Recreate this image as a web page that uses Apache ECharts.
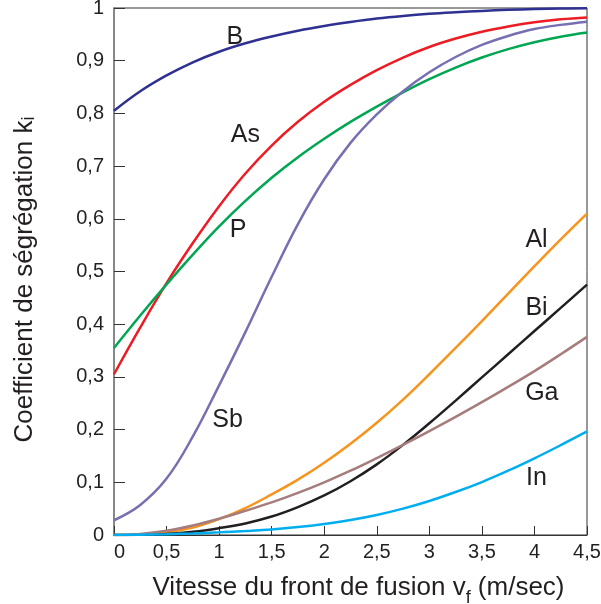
<!DOCTYPE html>
<html><head><meta charset="utf-8">
<script src="https://cdn.jsdelivr.net/npm/echarts@6/dist/echarts.min.js"></script>
<style>html,body{margin:0;padding:0;background:#fff}#c{width:601px;height:604px}</style>
</head><body><div id="c"></div>
<script>
const xs = [0,0.25,0.5,0.75,1,1.25,1.5,1.75,2,2.25,2.5,2.75,3,3.25,3.5,3.75,4,4.25,4.5];
const B  = [0.805,0.842,0.872,0.897,0.917,0.933,0.946,0.957,0.966,0.9735,0.980,0.985,0.989,0.992,0.9945,0.9965,0.998,0.999,0.9995];
const As = [0.305,0.394,0.478,0.554,0.624,0.686,0.739,0.784,0.822,0.854,0.882,0.906,0.926,0.942,0.955,0.965,0.973,0.9785,0.982];
const P  = [0.355,0.4165,0.4755,0.532,0.5855,0.634,0.678,0.717,0.752,0.784,0.813,0.840,0.865,0.887,0.906,0.922,0.935,0.9455,0.9535];
const Sb = [0.028,0.057,0.107,0.187,0.284,0.385,0.49,0.59,0.675,0.744,0.798,0.842,0.878,0.907,0.930,0.947,0.960,0.968,0.974];
const Al = [0,0.001,0.005,0.014,0.030,0.051,0.077,0.105,0.137,0.173,0.213,0.257,0.305,0.355,0.406,0.458,0.510,0.561,0.610];
const Bi = [0,0.0005,0.002,0.006,0.013,0.022,0.035,0.053,0.075,0.102,0.134,0.171,0.212,0.255,0.299,0.343,0.387,0.431,0.475];
const Ga = [0,0.002,0.008,0.018,0.031,0.046,0.062,0.080,0.100,0.122,0.146,0.171,0.197,0.224,0.252,0.281,0.311,0.343,0.376];
const In = [0,0.0005,0.0015,0.003,0.005,0.0075,0.0105,0.015,0.021,0.0285,0.038,0.050,0.0645,0.0815,0.1005,0.122,0.1455,0.1705,0.1965];
const names = ['B','As','P','Sb','Al','Bi','Ga','In'];
const values = [B,As,P,Sb,Al,Bi,Ga,In];
const colors = ['#2e3192','#ed1c24','#00a651','#7670b3','#f7941d','#231f20','#a67c7c','#00aeef'];
const labelPos = [[1.15,0.945],[1.25,0.759],[1.18,0.579],[1.08,0.218],[4.02,0.56],[4.02,0.431],[4.07,0.269],[4.02,0.108]];

const fmt = v => String(+v.toFixed(2)).replace('.', ',');
const font = 'Liberation Sans, Arial, sans-serif';
const ink = '#231f20';
const chart = echarts.init(document.getElementById('c'));
chart.setOption({
  animation:false,
  textStyle:{fontFamily:font},
  grid:{left:114,right:14,top:8,bottom:69,containLabel:false,outerBoundsMode:'none',show:true,borderColor:'#333',borderWidth:1},
  xAxis:{type:'value',min:0,max:4.5,interval:0.5,
    axisLine:{lineStyle:{color:'#333',width:1}},
    axisTick:{inside:true,length:9,lineStyle:{color:'#333'}},
    splitLine:{show:false},
    axisLabel:{formatter:fmt,fontSize:20,color:ink,margin:7,fontFamily:font,alignMinLabel:'left'},
    name:'{a|Vitesse du front de fusion v}{s|f}{a| (m/sec)}',nameLocation:'middle',nameGap:40,
    nameTextStyle:{padding:[0,0,0,16],rich:{a:{fontSize:26,color:ink,fontFamily:font},s:{fontSize:18,color:ink,fontFamily:font,verticalAlign:'bottom',padding:[0,0,-6,0]}}}
  },
  yAxis:{type:'value',min:0,max:1,interval:0.1,
    axisLine:{lineStyle:{color:'#888',width:2}},
    axisTick:{inside:true,length:11,lineStyle:{color:'#333'}},
    splitLine:{show:false},
    axisLabel:{formatter:fmt,fontSize:20,color:ink,margin:10,fontFamily:font},
    name:'{a|Coefficient de ségrégation k}{s|i}',nameLocation:'middle',nameGap:76,
    nameTextStyle:{padding:[0,16,0,0],rich:{a:{fontSize:26,color:ink,fontFamily:font},s:{fontSize:18,color:ink,fontFamily:font,padding:[0,0,-8,0]}}}
  },
  series: names.map((n,i)=>({
    type:'line',name:n,smooth:0.4,symbol:'none',
    data: xs.map((x,j)=>[x,values[i][j]]),
    lineStyle:{color:colors[i],width:2.5},
    markPoint:{symbol:'circle',symbolSize:0,silent:true,
      label:{show:true,formatter:n,fontSize:25,color:ink,fontFamily:font,position:'inside'},
      data:[{coord:labelPos[i]}]}
  }))
});
</script></body></html>
